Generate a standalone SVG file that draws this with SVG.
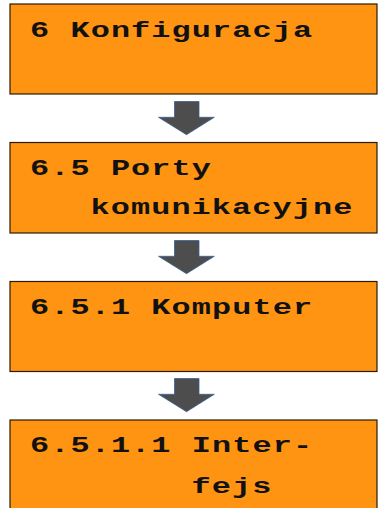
<svg xmlns="http://www.w3.org/2000/svg" width="379" height="508" viewBox="0 0 379 508">
<defs>
<style>
.box{fill:#FF9412;stroke:#2a1c05;stroke-width:1.2}
.t{font-family:"Liberation Mono","Courier New",monospace;font-weight:bold;font-size:22px;letter-spacing:0.75px;fill:#111}
.arr{fill:#4d4d4d;stroke:#3b5f98;stroke-width:0.8}
</style>
<path id="arrow" class="arr" d="M174.5,101.5 H199 V117.3 H214.3 L186.5,134.7 L158.5,117.3 H174.5 Z"/>
</defs>
<g id="connectors">
<use href="#arrow"/>
<use href="#arrow" transform="translate(0,139)"/>
<use href="#arrow" transform="translate(0,277)"/>
</g>
<g id="n1">
<rect class="box" x="10" y="4" width="367" height="90"/>
<text class="t" transform="translate(30,36.7) scale(1.45,1)">6 Konfiguracja</text>
</g>
<g id="n2">
<rect class="box" x="10" y="142.5" width="367" height="90.5"/>
<text class="t" transform="translate(30,175) scale(1.45,1)">6.5 Porty</text>
<text class="t" transform="translate(90.5,214) scale(1.45,1)">komunikacyjne</text>
</g>
<g id="n3">
<rect class="box" x="10" y="281.5" width="367" height="90"/>
<text class="t" transform="translate(30,314) scale(1.45,1)">6.5.1 Komputer</text>
</g>
<g id="n4">
<rect class="box" x="10" y="420" width="367" height="100"/>
<text class="t" transform="translate(30,451.7) scale(1.45,1)">6.5.1.1 Inter-</text>
<text class="t" transform="translate(191.5,492.7) scale(1.45,1)">fejs</text>
</g>
</svg>
